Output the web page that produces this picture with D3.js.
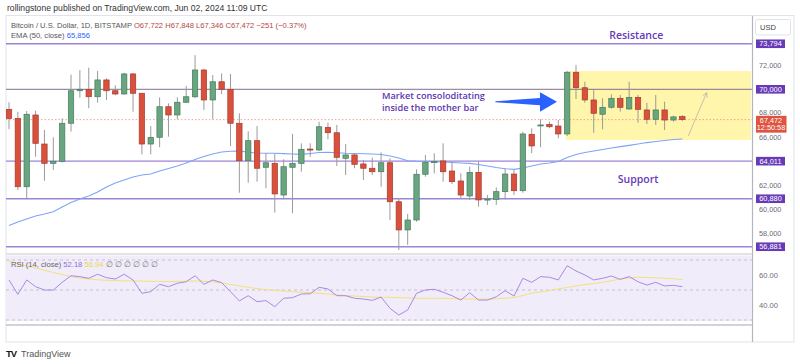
<!DOCTYPE html>
<html>
<head>
<meta charset="utf-8">
<script src="https://cdn.jsdelivr.net/npm/d3@7"></script>
<style>
  body { margin: 0; background: #fff; }
  svg { display: block; font-family: "Liberation Sans", Arial, sans-serif; }
</style>
</head>
<body>
<svg id="chart" width="800" height="364"></svg>
<script>
// daily BTC/USD candles, Mar 18 - Jun 2 2024
const open  = [68330,67580,61880,67860,65440,63830,64000,67170,69880,70000,69380,70780,69880,69610,
  71280,69670,65440,66000,68550,67860,68920,69380,71610,69110,70630,70000,67170,64050,65720,63500,
  63830,61190,63500,63830,65020,64940,66830,66380,64250,64530,63780,63420,63130,63880,
  60630,58280,59110,62920,63900,64030,63190,62360,61110,63080,60820,60830,61470,62940,61550,66250,
  67030,67080,66940,66280,71420,70130,69110,67920,68500,69250,68360,69330,68280,67500,68280,67440,67722];
const high  = [68920,68130,68190,68220,66610,66000,67580,71220,71600,71800,71530,70920,70330,71380,
  71350,69700,66940,69330,68830,69330,70280,72850,71700,71190,71330,71280,68000,66500,66940,64670,
  64610,64170,66280,65500,65500,67300,67220,67030,65440,64670,64110,64300,64750,64250,
  60920,59610,63330,64530,64670,65500,63880,63000,63550,63970,61190,61830,63420,63280,66470,66750,
  67500,67300,67440,71530,72030,70630,69940,69250,69580,69530,70630,69530,68880,69530,68970,67800,67848];
const low   = [66670,61600,60830,64380,62380,63280,63900,66470,69300,68420,68880,69110,69500,69550,
  68130,64580,64580,65170,66050,67500,68850,69250,68280,67500,69600,65280,61380,62220,62300,61750,
  59720,60830,59670,63130,64380,64850,65830,63610,62860,63420,62440,62860,61880,59110,
  56600,57030,58970,62720,63000,62300,62100,60920,60780,60220,60360,60360,60830,61190,61380,64670,
  65170,66750,65920,66110,69190,68880,66380,66670,68400,68130,68280,67220,67110,67030,66610,67300,67346];
const close = [67580,61880,67920,65500,63830,64000,67170,69880,70000,69380,70780,69880,69610,71280,
  69670,65440,66000,68550,67860,68920,69380,71610,69110,70630,70000,67170,64050,65720,63420,63880,
  61280,63550,63830,65000,64960,66880,66380,64330,64530,63750,63420,63130,63880,60630,
  58280,59110,62920,63920,63970,63130,62300,61190,63080,60780,60850,61470,62940,61550,66280,65280,
  67030,66880,66280,71420,70130,69110,68000,68500,69250,68500,69330,68330,67500,68280,67440,67700,67472];

const ema50 = [58650,58940,59190,59440,59610,59800,60190,60570,60860,61110,61440,61860,62190,62440,
  62690,62860,62940,63190,63400,63610,63860,64150,64400,64610,64780,64840,64860,64750,64690,64670,
  64670,64640,64610,64580,64650,64730,64750,64710,64670,64650,64630,64610,64570,64440,
  64280,64050,64000,63980,63960,63940,63900,63860,63830,63730,63610,63480,63380,63330,63440,63610,
  63780,63860,63980,64320,64570,64730,64860,64980,65110,65220,65330,65440,65560,65650,65730,65820,65856];

const rsi = [56.7,47.1,56.7,52.2,50.0,50.0,55.1,59.5,58.9,57.8,60.5,58.2,57.3,60.5,
  56.7,47.8,48.9,53.8,52.2,54.5,55.5,59.5,53.8,56.7,54.9,48.9,42.7,46.2,42.2,42.9,
  38.9,44.5,44.9,47.3,47.5,51.8,50.7,46.2,46.2,44.5,44.0,43.1,45.3,37.8,
  33.3,36.7,47.8,50.0,50.5,48.5,46.2,43.3,48.2,43.3,43.3,45.5,49.5,46.0,57.8,55.1,
  58.9,58.5,56.7,66.2,62.7,60.0,56.7,57.8,59.3,57.1,58.9,55.5,53.3,55.1,52.7,53.1,52.18];
const rsiMa = [69.3,67.7,66.0,64.7,63.1,61.7,60.3,59.0,58.0,57.3,56.8,56.5,56.3,56.1,
  56.0,55.9,55.8,55.7,55.6,55.7,55.9,56.0,55.8,55.5,54.7,53.7,52.7,51.8,50.9,50.3,
  49.8,49.3,48.9,48.5,48.2,47.8,47.3,46.8,46.3,46.0,45.7,45.3,45.2,45.1,
  44.9,44.7,44.5,44.5,44.5,44.5,44.3,44.1,43.9,43.8,43.9,44.1,44.5,45.0,46.3,48.0,
  48.7,49.7,50.7,51.7,52.7,53.6,54.3,55.1,56.2,57.3,58.1,58.5,58.4,58.1,57.8,57.5,56.94];

const levels = [73794, 70000, 64011, 60880, 56881];
const priceTicks = [72000, 68000, 66000, 62000, 60000, 58000];
const rsiTicks = [60, 40];
const timeTicks = ['2024-03-18','2024-03-25','2024-04-01','2024-04-08','2024-04-15','2024-04-22',
  '2024-05-01','2024-05-07','2024-05-13','2024-05-20','2024-05-26','2024-06-01','2024-06-10'];
const timeLabels = ['18','25','Apr','8','15','22','May','7','13','20','26','Jun','10'];
const lastPrice = 67472;

const start = new Date(Date.UTC(2024, 2, 18));
const dates = d3.utcDay.range(start, new Date(Date.UTC(2024, 5, 3)));
const day = n => d3.utcMinute.offset(start, Math.round(n * 1440));

const svg = d3.select('#chart');
const x = d3.scaleUtc().domain([start, new Date(Date.UTC(2024, 5, 10))]).range([9, 753.2]);
const y = d3.scaleLinear().domain([56000, 74000]).range([257.3, 41.3]);
const yR = d3.scaleLinear().domain([30, 70]).range([320, 260]);

const green = '#6aa582', greenLine = '#437d5c', red = '#d9503c', redLine = '#a83a2b';
const purple = '#673ab7';

svg.append('clipPath').attr('id', 'pane').append('rect')
  .attr('x', 6).attr('y', 16).attr('width', 746).attr('height', 237);

// header
svg.append('text').attr('x', 7).attr('y', 10.5).attr('font-size', 8.6).attr('fill', '#333')
  .text('rollingstone published on TradingView.com, Jun 02, 2024 11:09 UTC');

// frame
svg.append('rect').attr('x', 6).attr('y', 15.5).attr('width', 788).attr('height', 326.5)
  .attr('fill', 'none').attr('stroke', '#e0e3eb');

const pane = svg.append('g').attr('clip-path', 'url(#pane)');

// consolidation zone
pane.append('rect')
  .attr('x', x(day(62.83))).attr('y', y(71520))
  .attr('width', x(day(83.75)) - x(day(62.83))).attr('height', y(65780) - y(71520))
  .attr('fill', '#fff59d').attr('opacity', 0.85);

// horizontal levels
pane.selectAll('line.level').data(levels).join('line')
  .attr('class', 'level')
  .attr('x1', 6).attr('x2', 752)
  .attr('y1', d => y(d)).attr('y2', d => y(d))
  .attr('stroke', d => d === 70000 ? '#7d7290' : '#9c84d8')
  .attr('stroke-width', d => d === 70000 ? 1 : 1.4);

// last price dotted
pane.append('line').attr('x1', 6).attr('x2', 752)
  .attr('y1', y(lastPrice)).attr('y2', y(lastPrice))
  .attr('stroke', '#f08a7e').attr('stroke-width', 0.8).attr('stroke-dasharray', '1.5,2');

// EMA 50
pane.append('path').datum(ema50)
  .attr('fill', 'none').attr('stroke', '#7ea4f6').attr('stroke-width', 1.1)
  .attr('d', d3.line().x((d, i) => x(dates[i])).y(d => y(d)));

// candles
const candle = pane.selectAll('g.candle').data(dates).join('g').attr('class', 'candle');
candle.append('line')
  .attr('x1', d => x(d)).attr('x2', d => x(d))
  .attr('y1', (d, i) => y(high[i])).attr('y2', (d, i) => y(low[i]))
  .attr('stroke', '#9a9a9a').attr('stroke-width', 1);
candle.append('rect')
  .attr('x', d => x(d) - 2.7).attr('width', 5.4)
  .attr('y', (d, i) => y(Math.max(open[i], close[i])))
  .attr('height', (d, i) => Math.max(1, Math.abs(y(open[i]) - y(close[i]))))
  .attr('fill', (d, i) => close[i] >= open[i] ? green : red)
  .attr('stroke', (d, i) => close[i] >= open[i] ? greenLine : redLine)
  .attr('stroke-width', 0.7);

// blue arrow
const ax0 = x(day(54.9)), ax1 = x(day(61.85)), ay = y(68970);
pane.append('path')
  .attr('d', `M${ax0},${ay - 0.5} L${ax1 - 17},${ay - 3.6} L${ax1 - 17},${ay - 9.5} L${ax1},${ay}
    L${ax1 - 17},${ay + 10} L${ax1 - 17},${ay + 3.6} L${ax0},${ay + 0.5} Z`)
  .attr('fill', '#2962ff');

// thin gray arrow
const gx0 = x(day(76.67)), gy0 = y(66110), gx1 = x(day(78.75)), gy1 = y(69720);
pane.append('line').attr('x1', gx0).attr('y1', gy0).attr('x2', gx1).attr('y2', gy1)
  .attr('stroke', '#aaa').attr('stroke-width', 0.7);
const ang = Math.atan2(gy1 - gy0, gx1 - gx0);
pane.append('path')
  .attr('d', `M${gx1 - 5 * Math.cos(ang - 0.5)},${gy1 - 5 * Math.sin(ang - 0.5)} L${gx1},${gy1}
    L${gx1 - 5 * Math.cos(ang + 0.5)},${gy1 - 5 * Math.sin(ang + 0.5)}`)
  .attr('fill', 'none').attr('stroke', '#aaa').attr('stroke-width', 0.7);

// text annotations
const noteStyle = t => t.attr('font-size', 9.2).attr('font-weight', 600).attr('fill', '#5e35b1')
  .attr('font-family', '"Open Sans", sans-serif');
pane.append('text').call(noteStyle)
  .attr('x', x(day(42.1))).attr('y', y(69470) + 3.2).text('Market consoloditating');
pane.append('text').call(noteStyle)
  .attr('x', x(day(42.1))).attr('y', y(68450) + 3.4).text('inside the mother bar');
pane.append('text').attr('x', x(day(70.8))).attr('y', y(74500) + 4).attr('text-anchor', 'middle')
  .attr('font-size', 10.5).attr('font-weight', 600).attr('fill', purple)
  .attr('font-family', '"Open Sans", sans-serif').text('Resistance');
pane.append('text').attr('x', x(day(71))).attr('y', y(62525) + 4).attr('text-anchor', 'middle')
  .attr('font-size', 10.5).attr('font-weight', 600).attr('fill', purple)
  .attr('font-family', '"Open Sans", sans-serif').text('Support');

// legend
const leg1 = svg.append('text').attr('x', 11).attr('y', 28.3).attr('font-size', 7.6).attr('fill', '#555');
leg1.append('tspan').text('Bitcoin / U.S. Dollar, 1D, BITSTAMP  ');
leg1.append('tspan').attr('fill', '#b5483f')
  .text('O67,722  H67,848  L67,346  C67,472  \u2212251 (\u22120.37%)');
const leg2 = svg.append('text').attr('x', 11).attr('y', 38.3).attr('font-size', 7.6).attr('fill', '#555');
leg2.append('tspan').text('EMA (50, close)  ');
leg2.append('tspan').attr('fill', '#2962ff').text('65,856');

// price axis
svg.append('line').attr('x1', 752.5).attr('x2', 752.5).attr('y1', 16).attr('y2', 342)
  .attr('stroke', '#b2b5be').attr('stroke-width', 1.2);
const pAxis = svg.append('g').attr('transform', 'translate(752,0)')
  .call(d3.axisRight(y).tickValues(priceTicks).tickFormat(d3.format(',')).tickSize(0).tickPadding(7));
pAxis.select('.domain').remove();
pAxis.selectAll('text').attr('font-size', 7.3).attr('fill', '#6a6d78').attr('font-family', '"Liberation Sans", Arial')
  .attr('dy', d => d === 68000 ? '0.1em' : '0.32em');

const lv = svg.selectAll('g.lv').data(levels).join('g').attr('class', 'lv')
  .attr('transform', d => `translate(756,${y(d)})`);
lv.append('rect').attr('x', 0).attr('y', -4.3).attr('width', 29).attr('height', 8.6).attr('fill', purple);
lv.append('text').attr('x', 14.5).attr('y', 2.7).attr('text-anchor', 'middle')
  .attr('font-size', 7.4).attr('fill', '#fff').text(d => d3.format(',')(d));

const lp = svg.append('g').attr('transform', `translate(756,${y(lastPrice)})`);
lp.append('rect').attr('x', 0).attr('y', -3.8).attr('width', 30.5).attr('height', 16.8).attr('fill', '#e0533f');
lp.append('text').attr('x', 15).attr('y', 3).attr('text-anchor', 'middle').attr('font-size', 7.3)
  .attr('fill', '#fff').text(d3.format(',')(lastPrice));
lp.append('text').attr('x', 15).attr('y', 10.8).attr('text-anchor', 'middle').attr('font-size', 7.3)
  .attr('fill', '#fff').text('12:50:58');

svg.append('rect').attr('x', 755.5).attr('y', 19.5).attr('width', 35).attr('height', 15.5).attr('rx', 2)
  .attr('fill', '#fff').attr('stroke', '#e0e3eb');
svg.append('text').attr('x', 760).attr('y', 30).attr('font-size', 7.6).attr('fill', '#444').text('USD');

// RSI pane
svg.append('line').attr('x1', 6).attr('x2', 752).attr('y1', 254).attr('y2', 254)
  .attr('stroke', '#e3e3e6').attr('stroke-width', 2);
svg.append('rect').attr('x', 6).attr('y', 255.5).attr('width', 746).attr('height', 65.5).attr('fill', '#f1ecfa');
svg.selectAll('line.band').data([70, 50, 30]).join('line').attr('class', 'band')
  .attr('x1', 6).attr('x2', 752).attr('y1', d => yR(d)).attr('y2', d => yR(d))
  .attr('stroke', '#b9b7c2').attr('stroke-width', 0.8).attr('stroke-dasharray', '3,3');
svg.append('path').datum(rsiMa).attr('fill', 'none').attr('stroke', '#f4e07c').attr('stroke-width', 1)
  .attr('d', d3.line().x((d, i) => x(dates[i])).y(d => yR(d)));
svg.append('path').datum(rsi).attr('fill', 'none').attr('stroke', '#a88be0').attr('stroke-width', 1)
  .attr('d', d3.line().x((d, i) => x(dates[i])).y(d => yR(d)));

const rAxis = svg.append('g').attr('transform', 'translate(752,0)')
  .call(d3.axisRight(yR).tickValues(rsiTicks).tickFormat(d3.format('.2f')).tickSize(0).tickPadding(7));
rAxis.select('.domain').remove();
rAxis.selectAll('text').attr('font-size', 7.6).attr('fill', '#6a6d78').attr('font-family', '"Liberation Sans", Arial');

const rl = svg.append('text').attr('x', 11).attr('y', 267).attr('font-size', 7.6).attr('fill', '#666');
rl.append('tspan').text('RSI (14, close)  ');
rl.append('tspan').attr('fill', '#8e6fd6').text('52.18  ');
rl.append('tspan').attr('fill', '#eed54a').text('56.94  ');
rl.append('tspan').attr('fill', '#777').text('\u2205  \u2205  \u2205  \u2205  \u2205  \u2205');

// time axis
svg.append('line').attr('x1', 6).attr('x2', 752).attr('y1', 325).attr('y2', 325)
  .attr('stroke', '#c4c4c8').attr('stroke-width', 1.6);
svg.append('clipPath').attr('id', 'taxis').append('rect')
  .attr('x', 0).attr('y', 320).attr('width', 752).attr('height', 30);
const tAxis = svg.append('g').attr('transform', 'translate(0,325)').attr('clip-path', 'url(#taxis)')
  .call(d3.axisBottom(x).tickValues(timeTicks.map(d => new Date(d + 'T00:00:00Z')))
    .tickFormat((d, i) => timeLabels[i]).tickSize(0).tickPadding(5));
tAxis.select('.domain').remove();
tAxis.selectAll('text').attr('font-size', 7.6).attr('fill', '#6a6d78')
  .attr('font-family', '"Liberation Sans", Arial')
  .attr('font-weight', (d, i) => /^[A-Z]/.test(timeLabels[i]) ? 700 : 400);

// footer logo
svg.append('text').attr('x', 6).attr('y', 357).attr('font-size', 9.5).attr('font-weight', 900)
  .attr('fill', '#131722').attr('letter-spacing', -1).text('TV');
svg.append('text').attr('x', 21).attr('y', 357).attr('font-size', 9).attr('fill', '#555').text('TradingView');
</script>
</body>
</html>
